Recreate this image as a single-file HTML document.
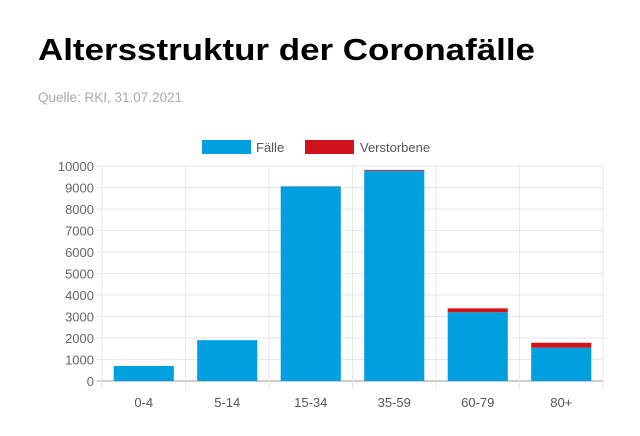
<!DOCTYPE html>
<html><head><meta charset="utf-8"><style>
body{margin:0;background:#fff;width:640px;height:431px;overflow:hidden;font-family:"Liberation Sans",sans-serif}
</style></head><body>
<svg width="640" height="431" xmlns="http://www.w3.org/2000/svg">
<text x="38" y="60" font-size="31" font-weight="bold" fill="#000" textLength="497" lengthAdjust="spacingAndGlyphs">Altersstruktur der Coronafälle</text>
<text x="38" y="102" font-size="13.5" fill="#aaa">Quelle: RKI, 31.07.2021</text>
<g>
<rect x="202" y="140" width="49" height="14" fill="#009fe0"/>
<text x="256" y="152" font-size="13" fill="#555">Fälle</text>
<rect x="305" y="140" width="49" height="14" fill="#d0131a"/>
<text x="360" y="152" font-size="13" fill="#555">Verstorbene</text>
</g>
<g id="grid"></g><g id="bars"></g><g id="axes"></g>
</svg>
<script>
const categories=["0-4","5-14","15-34","35-59","60-79","80+"];
const faelle=[700,1900,9050,9780,3200,1550];
const verstorbene=[0,0,5,40,180,230];
const yTicks=[0,1000,2000,3000,4000,5000,6000,7000,8000,9000,10000];
const NS="http://www.w3.org/2000/svg";
const x0=102,x1=603,yBase=381,yTop=166,yMax=10000;
const band=(x1-x0)/categories.length;
function y(v){return yBase-(v/yMax)*(yBase-yTop);}
function xc(i){return x0+band*(i+0.5);}
function mk(tag,attrs,parent){const e=document.createElementNS(NS,tag);for(const k in attrs)e.setAttribute(k,attrs[k]);document.getElementById(parent).appendChild(e);return e;}
yTicks.forEach(t=>{
 const l=mk('line',{x1:x0-5,x2:x1,y1:y(t),y2:y(t),stroke:t===0?'#999':'#e6e6e6','stroke-width':1},'grid');
 
 
 const tx=mk('text',{x:x0-8,y:y(t)+5,'font-size':13,fill:'#666','text-anchor':'end'},'axes');
 tx.textContent=t;
 
 
});
for(let i=0;i<=categories.length;i++){
 const l=mk('line',{x1:x0+band*i,x2:x0+band*i,y1:yTop,y2:yBase+8,stroke:'#e6e6e6','stroke-width':1},'grid');
 
 
}
const bw=band*0.72;
categories.forEach((c,i)=>{
 const b=mk('rect',{x:xc(i)-bw/2,y:y(faelle[i]),width:bw,height:yBase-y(faelle[i]),fill:'#009fe0'},'bars');
 
 
 const top=faelle[i]+verstorbene[i];
 const d=mk('rect',{x:xc(i)-bw/2,y:y(top),width:bw,height:y(faelle[i])-y(top),fill:'#d0131a'},'bars');
 
 
 const t=mk('text',{x:xc(i),y:yBase+26,'font-size':13,fill:'#555','text-anchor':'middle'},'axes');
 t.textContent=c;
 
 
});
</script>
</body></html>
